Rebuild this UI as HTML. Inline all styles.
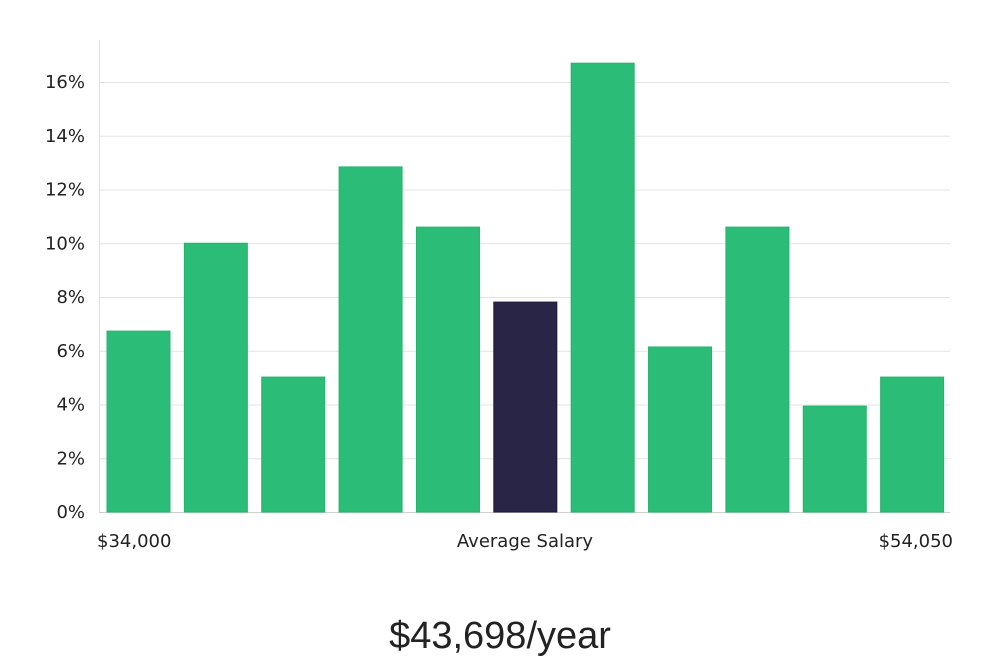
<!DOCTYPE html>
<html><head><meta charset="utf-8"><style>
body{margin:0;background:#fff;width:1000px;height:660px;overflow:hidden;font-family:"DejaVu Sans","Liberation Sans",sans-serif}
</style></head><body>
<svg id="chart" width="1000" height="660" xmlns="http://www.w3.org/2000/svg">
<g id="grid"></g><g id="bars"></g><g id="labels"></g>
<line x1="99.5" y1="40" x2="99.5" y2="512" stroke="#e0e0e0"/>
<text x="97" y="547" font-size="18" fill="#222">$34,000</text>
<text x="525" y="547" font-size="18" fill="#222" text-anchor="middle">Average Salary</text>
<text x="953" y="547" font-size="18" fill="#222" text-anchor="end">$54,050</text>
<text x="500" y="648" font-size="38" fill="#222" text-anchor="middle" font-family="'Liberation Sans',sans-serif" font-weight="300">$43,698/year</text>
</svg>
<script>
const values=[6.73,10.0,5.02,12.84,10.6,7.81,16.7,6.14,10.6,3.94,5.02];
const highlight=[false,false,false,false,false,true,false,false,false,false,false];
const ticks=[0,2,4,6,8,10,12,14,16];
const ns="http://www.w3.org/2000/svg";
const y=v=>512-v*26.875;
const left=99,right=950,band=(right-left)/values.length;
const x=i=>left+i*band+8;
const g=document.getElementById('grid'),b=document.getElementById('bars'),l=document.getElementById('labels');
ticks.forEach(t=>{
 const ln=document.createElementNS(ns,'line');
 
 
 ln.setAttribute('x1',99);ln.setAttribute('x2',950);ln.setAttribute('y1',y(t)+0.5);ln.setAttribute('y2',y(t)+0.5);
 ln.setAttribute('stroke',t===0?'#d0d0d0':'#e3e3e3');g.appendChild(ln);
 const tx=document.createElementNS(ns,'text');
 
 
 tx.setAttribute('x',85);tx.setAttribute('y',y(t)+6);tx.setAttribute('text-anchor','end');
 tx.setAttribute('font-size','18');tx.setAttribute('fill','#222');tx.textContent=t+'%';l.appendChild(tx);
});
values.forEach((v,i)=>{
 const r=document.createElementNS(ns,'rect');
 
 
 r.setAttribute('x',x(i));r.setAttribute('width',63);r.setAttribute('y',y(v));r.setAttribute('height',512-y(v));
 r.setAttribute('fill',highlight[i]?'#292546':'#2bbd77');
 r.setAttribute('stroke',highlight[i]?'#1c1838':'#22b56c');
 b.appendChild(r);
});
</script>
</body></html>
